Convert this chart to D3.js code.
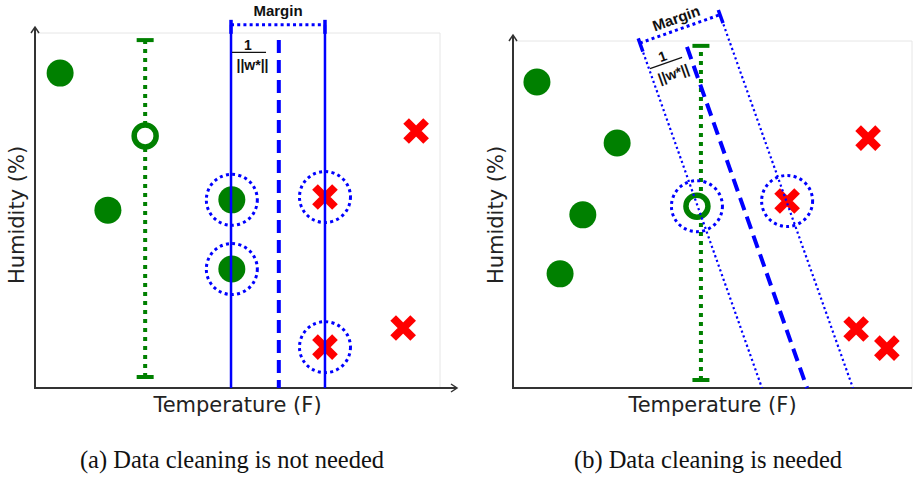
<!DOCTYPE html>
<html lang="en">
<head>
  <meta charset="UTF-8">
  <title>SVM margin - data cleaning</title>
  <style>
    body { margin: 0; background: #fff; }
  </style>
</head>
<body>
  <svg id="svg" width="923" height="478"></svg>

  <script src="https://d3js.org/d3.v7.min.js"></script>
  <script>
    // ------ DATA (temperature, humidity in arbitrary units 0..10) ------
    const xLabel = 'Temperature (F)'
    const yLabel = 'Humidity (%)'
    const marginLabel = 'Margin'
    const captions = ['(a) Data cleaning is not needed', '(b) Data cleaning is needed']

    // panel (a)
    const aGreen = [[0.62, 8.87], [1.80, 5.01], [4.86, 5.30], [4.86, 3.35]]
    const aHollow = [[2.72, 7.10]]
    const aRed = [[9.41, 7.24], [7.16, 5.38], [9.09, 1.69], [7.16, 1.15]]
    const aCircled = [[4.86, 5.30], [4.86, 3.35], [7.16, 5.38], [7.16, 1.15]]
    const aErrorBar = [2.72, 0.31, 9.80] // x, low, high
    const aHyperplane = [[6.02, 9.80], [6.02, 0]]
    const aMarginLow = [[4.84, 10.23], [4.84, 0]]
    const aMarginHigh = [[7.16, 10.23], [7.16, 0]]

    // panel (b)
    const bGreen = [[0.60, 8.82], [2.61, 7.06], [1.75, 4.99], [1.18, 3.29]]
    const bHollow = [[4.61, 5.24]]
    const bRed = [[6.87, 5.39], [8.90, 7.20], [8.60, 1.70], [9.37, 1.15]]
    const bCircled = [[4.61, 5.24], [6.87, 5.39]]
    const bErrorBar = [4.71, 0.23, 9.86]
    const bHyperplane = [[4.36, 9.83], [7.37, 0]]
    const bMarginLow = [[3.18, 9.94], [6.24, 0]]
    const bMarginHigh = [[5.19, 10.75], [8.52, 0]]

    // ------ LAYOUT ------------------------
    const panels = [
      { left: 35, right: 440, top: 33, bottom: 388, yArrow: 27, xArrow: 457, labelX: 24, capX: 232, marginStyle: 'solid', textUp: 9,
        green: aGreen, hollow: aHollow, red: aRed, circled: aCircled, err: aErrorBar, hyper: aHyperplane, mLow: aMarginLow, mHigh: aMarginHigh },
      { left: 513, right: 912, top: 41, bottom: 388, yArrow: 35, xArrow: null, labelX: 503, capX: 708, marginStyle: 'dotted', textUp: 6,
        green: bGreen, hollow: bHollow, red: bRed, circled: bCircled, err: bErrorBar, hyper: bHyperplane, mLow: bMarginLow, mHigh: bMarginHigh }
    ]

    const blue = '#0000ff'
    const green = '#008000'
    const red = '#ff0000'
    const axisColor = '#333'

    const svg = d3.select('#svg')
    svg.append('rect').attr('width', 923).attr('height', 478).attr('fill', '#fff')

    panels.forEach((p, i) => {
      const x = d3.scaleLinear().domain([0, 10]).range([p.left, p.right])
      const y = d3.scaleLinear().domain([0, 10]).range([p.bottom, p.top])
      const g = svg.append('g')
      const line = d3.line().x(d => x(d[0])).y(d => y(d[1]))

      // faint frame
      g.append('path')
        .attr('d', `M${p.left},${p.top}H${p.right}V${p.bottom}`)
        .attr('fill', 'none').attr('stroke', '#e6e6e6').attr('stroke-width', 1)

      // axes
      g.append('path')
        .attr('d', `M${p.left},${p.bottom}V${p.yArrow}`)
        .attr('stroke', axisColor).attr('stroke-width', 2)
      g.append('path')
        .attr('d', `M${p.left - 4},${p.yArrow + 6}L${p.left},${p.yArrow}L${p.left + 4},${p.yArrow + 6}`)
        .attr('fill', 'none').attr('stroke', axisColor).attr('stroke-width', 1.5)
      const xEnd = p.xArrow || p.right
      g.append('path')
        .attr('d', `M${p.left - 1},${p.bottom}H${xEnd}`)
        .attr('stroke', axisColor).attr('stroke-width', 2)
      if (p.xArrow) {
        g.append('path')
          .attr('d', `M${xEnd - 6},${p.bottom - 4}L${xEnd},${p.bottom}L${xEnd - 6},${p.bottom + 4}`)
          .attr('fill', 'none').attr('stroke', axisColor).attr('stroke-width', 1.5)
      }

      // axis labels
      g.append('text')
        .attr('x', (p.left + p.right) / 2).attr('y', 412)
        .attr('text-anchor', 'middle')
        .attr('font-family', 'DejaVu Sans').attr('font-size', 21).attr('fill', '#222')
        .text(xLabel)
      g.append('text')
        .attr('transform', `translate(${p.labelX},215) rotate(-90)`)
        .attr('text-anchor', 'middle')
        .attr('font-family', 'DejaVu Sans').attr('font-size', 21).attr('fill', '#222')
        .text(yLabel)

      // error bar (green dotted with caps)
      const [ex, elo, ehi] = p.err
      g.append('line')
        .attr('x1', x(ex)).attr('x2', x(ex)).attr('y1', y(elo)).attr('y2', y(ehi))
        .attr('stroke', green).attr('stroke-width', 4).attr('stroke-dasharray', '4,5')
      ;[elo, ehi].forEach(v => {
        g.append('line')
          .attr('x1', x(ex) - 8.5).attr('x2', x(ex) + 8.5).attr('y1', y(v)).attr('y2', y(v))
          .attr('stroke', green).attr('stroke-width', 4)
      })

      // points
      g.selectAll('.dot').data(p.green).enter().append('circle')
        .attr('cx', d => x(d[0])).attr('cy', d => y(d[1])).attr('r', 13.5)
        .attr('fill', green)
      g.selectAll('.hollow').data(p.hollow).enter().append('circle')
        .attr('cx', d => x(d[0])).attr('cy', d => y(d[1])).attr('r', 11)
        .attr('fill', '#fff').attr('stroke', green).attr('stroke-width', 5.5)
      g.selectAll('.cross').data(p.red).enter().append('path')
        .attr('transform', d => `translate(${x(d[0])},${y(d[1])})`)
        .attr('d', 'M-10,-10L10,10M-10,10L10,-10')
        .attr('stroke', red).attr('stroke-width', 8)

      // margin lines and hyperplane
      ;[p.mLow, p.mHigh].forEach(m => {
        g.append('path').attr('d', line(m))
          .attr('stroke', blue)
          .attr('stroke-width', p.marginStyle === 'solid' ? 2.5 : 2.2)
          .attr('stroke-dasharray', p.marginStyle === 'solid' ? null : '2.2,2.8')
      })
      g.append('path').attr('d', line(p.hyper))
        .attr('stroke', blue).attr('stroke-width', 4).attr('stroke-dasharray', '13,7')

      // dotted circles on support vectors
      g.selectAll('.sv').data(p.circled).enter().append('circle')
        .attr('cx', d => x(d[0])).attr('cy', d => y(d[1])).attr('r', 25.5)
        .attr('fill', 'none').attr('stroke', blue).attr('stroke-width', 3)
        .attr('stroke-dasharray', '3,3.3')

      // margin bracket and 1/||w*|| in a frame aligned with the margin lines
      const o = [x(p.mLow[0][0]), y(p.mLow[0][1])]
      const o2 = [x(p.mLow[1][0]), y(p.mLow[1][1])]
      const t2 = [x(p.mHigh[0][0]), y(p.mHigh[0][1])]
      const len = Math.hypot(o2[0] - o[0], o2[1] - o[1])
      const v = [(o2[0] - o[0]) / len, (o2[1] - o[1]) / len]
      const u = [v[1], -v[0]]
      const w = (t2[0] - o[0]) * u[0] + (t2[1] - o[1]) * u[1]
      const angle = Math.atan2(u[1], u[0]) * 180 / Math.PI
      const ann = svg.append('g').attr('transform', `translate(${o[0]},${o[1]}) rotate(${angle})`)

      ann.append('line').attr('x1', 0).attr('x2', w).attr('y1', 0).attr('y2', 0)
        .attr('stroke', blue).attr('stroke-width', 3).attr('stroke-dasharray', '3,3.2')
      ;[0, w].forEach(t => {
        ann.append('line').attr('x1', t).attr('x2', t).attr('y1', -5).attr('y2', 9)
          .attr('stroke', blue).attr('stroke-width', 3.5)
      })
      ann.append('text')
        .attr('x', w / 2).attr('y', -p.textUp)
        .attr('text-anchor', 'middle')
        .attr('font-family', 'Liberation Sans').attr('font-weight', 'bold').attr('font-size', 15)
        .attr('fill', '#111')
        .text(marginLabel)
      ann.append('text')
        .attr('x', 17).attr('y', 25)
        .attr('text-anchor', 'middle')
        .attr('font-family', 'Liberation Sans').attr('font-weight', 'bold').attr('font-size', 14)
        .attr('fill', '#111')
        .text('1')
      ann.append('line').attr('x1', 1).attr('x2', 35).attr('y1', 27.5).attr('y2', 27.5)
        .attr('stroke', '#111').attr('stroke-width', 1.2)
      ann.append('text')
        .attr('x', 21.5).attr('y', 45)
        .attr('text-anchor', 'middle')
        .attr('font-family', 'Liberation Sans').attr('font-weight', 'bold').attr('font-size', 14)
        .attr('fill', '#111')
        .text('||w*||')

      // caption
      svg.append('text')
        .attr('x', p.capX).attr('y', 468)
        .attr('text-anchor', 'middle')
        .attr('font-family', 'Liberation Serif').attr('font-size', 24.5).attr('fill', '#111')
        .text(captions[i])
    })
  </script>
</body>
</html>
